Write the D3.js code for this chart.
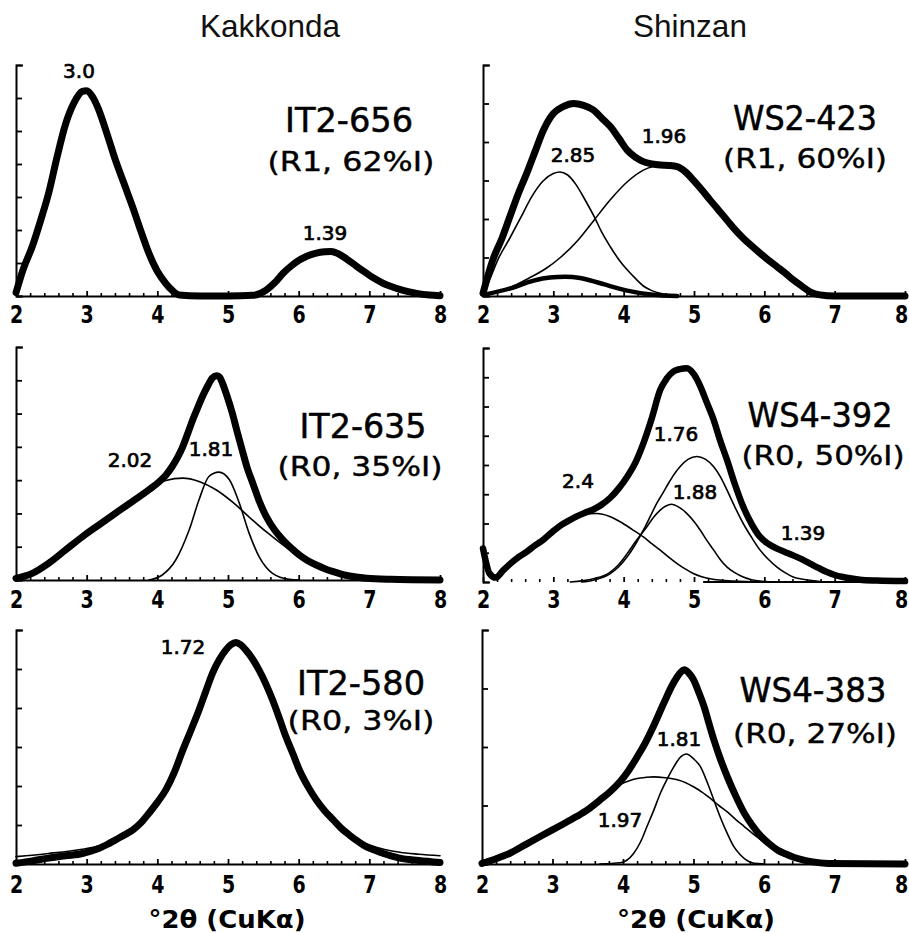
<!DOCTYPE html>
<html><head><meta charset="utf-8">
<script src="https://cdn.jsdelivr.net/npm/d3@7"></script>
<style>body{margin:0;background:#fff}</style>
</head><body>
<svg id="chart" width="909" height="933"></svg>
<script>
// ---------------- DATA ----------------
const columnTitles = ["Kakkonda", "Shinzan"];
const sampleNames = ["IT2-656", "WS2-423", "IT2-635", "WS4-392", "IT2-580", "WS4-383"];
const sampleInfo = ["(R1, 62%I)", "(R1, 60%I)", "(R0, 35%I)", "(R0, 50%I)", "(R0, 3%I)", "(R0, 27%I)"];
const xTicks = [2, 3, 4, 5, 6, 7, 8];
const xAxisTitle = "°2θ  (CuKα)";
const yTickCounts = [7, 6, 7, 8, 6, 4];
const peakLabels = [["3.0", "1.39"], ["2.85", "1.96"], ["2.02", "1.81"], ["2.4", "1.76", "1.88", "1.39"], ["1.72"], ["1.81", "1.97"]];

// IT2-656
const it2656Total = [[2.0,0.1],[2.1,0.8],[2.23,1.5],[2.35,2.3],[2.46,3.1],[2.58,4.2],[2.70,5.2],[2.82,5.85],[2.94,6.2],[3.0,6.22],[3.08,6.05],[3.17,5.65],[3.29,4.9],[3.41,4.1],[3.53,3.4],[3.65,2.7],[3.77,1.95],[3.88,1.3],[4.0,0.75],[4.12,0.38],[4.22,0.15],[4.31,0.03],[4.6,0.0],[5.0,0.0],[5.35,0.02],[5.54,0.18],[5.66,0.4],[5.78,0.69],[5.9,0.92],[6.01,1.09],[6.13,1.22],[6.25,1.3],[6.37,1.34],[6.46,1.35],[6.56,1.28],[6.68,1.12],[6.82,0.9],[6.96,0.69],[7.08,0.52],[7.20,0.38],[7.32,0.28],[7.43,0.20],[7.55,0.13],[7.67,0.08],[7.85,0.03],[8.0,0.01]];

// WS2-423
const ws2423Total = [[2.0,0.07],[2.14,0.94],[2.27,1.5],[2.38,2.05],[2.5,2.65],[2.64,3.27],[2.74,3.75],[2.86,4.31],[3.0,4.74],[3.14,4.92],[3.29,5.0],[3.43,4.95],[3.57,4.83],[3.69,4.62],[3.81,4.40],[3.93,4.10],[4.05,3.79],[4.17,3.6],[4.28,3.49],[4.40,3.43],[4.52,3.40],[4.64,3.39],[4.76,3.36],[4.88,3.22],[4.99,3.01],[5.11,2.76],[5.23,2.49],[5.35,2.23],[5.47,1.97],[5.58,1.73],[5.70,1.50],[5.82,1.30],[5.94,1.11],[6.06,0.93],[6.18,0.76],[6.30,0.59],[6.41,0.42],[6.53,0.26],[6.65,0.11],[6.79,0.03],[7.0,0.0],[8.0,0.0]];
const ws2423Comp285 = [[2.0,0.05],[2.1,0.45],[2.21,0.94],[2.38,1.5],[2.54,2.05],[2.7,2.6],[2.85,2.98],[3.0,3.18],[3.09,3.22],[3.2,3.15],[3.32,2.9],[3.45,2.5],[3.59,2.03],[3.69,1.65],[3.81,1.28],[3.93,0.95],[4.05,0.68],[4.17,0.45],[4.28,0.26],[4.40,0.14],[4.52,0.07],[4.76,0.0]];
const ws2423Comp196 = [[2.0,0.0],[2.39,0.22],[2.64,0.45],[2.9,0.72],[3.10,1.0],[3.35,1.45],[3.57,1.95],[3.81,2.5],[4.06,2.98],[4.28,3.27],[4.52,3.39],[4.76,3.32],[4.99,3.01],[5.23,2.49],[5.47,1.97],[5.70,1.50],[5.94,1.11],[6.18,0.76],[6.41,0.42],[6.65,0.11],[6.79,0.03],[7.0,0.0]];
const ws2423CompLow = [[2.0,0.03],[2.39,0.20],[2.72,0.40],[2.95,0.48],[3.17,0.50],[3.38,0.47],[3.67,0.33],[4.05,0.14],[4.42,0.03],[4.76,0.0]];

// IT2-635
const it2635Total = [[2.0,0.05],[2.23,0.20],[2.46,0.50],[2.70,0.90],[2.94,1.30],[3.17,1.65],[3.41,2.01],[3.65,2.36],[3.88,2.71],[4.03,2.96],[4.12,3.15],[4.21,3.41],[4.29,3.7],[4.36,4.01],[4.43,4.4],[4.50,4.81],[4.57,5.17],[4.64,5.52],[4.71,5.82],[4.78,6.07],[4.84,6.14],[4.88,6.1],[4.92,5.92],[4.99,5.5],[5.06,5.02],[5.13,4.45],[5.20,3.91],[5.27,3.38],[5.35,2.91],[5.44,2.38],[5.54,1.91],[5.66,1.5],[5.78,1.20],[5.9,0.95],[6.01,0.75],[6.13,0.58],[6.25,0.45],[6.37,0.34],[6.49,0.25],[6.6,0.18],[6.72,0.12],[6.84,0.08],[6.96,0.05],[7.3,0.02],[8.0,0.0]];
const it2635Comp202 = [[2.0,0.02],[2.46,0.48],[3.17,1.63],[3.88,2.68],[4.12,2.99],[4.36,3.06],[4.59,2.96],[4.83,2.71],[5.07,2.33],[5.30,1.89],[5.54,1.45],[5.78,1.05],[6.01,0.70],[6.25,0.44],[6.49,0.25],[6.96,0.08],[8.0,0.0]];
const it2635Comp181 = [[3.88,0.0],[4.07,0.15],[4.26,0.60],[4.45,1.50],[4.59,2.41],[4.73,3.11],[4.87,3.24],[5.02,3.01],[5.16,2.31],[5.30,1.40],[5.44,0.70],[5.63,0.20],[5.87,0.02],[6.01,0.0]];

// WS4-392
const ws4392Total = [[2.0,1.15],[2.04,0.7],[2.09,0.3],[2.18,0.15],[2.28,0.38],[2.39,0.63],[2.51,0.86],[2.63,1.05],[2.74,1.25],[2.86,1.45],[2.98,1.7],[3.10,1.93],[3.22,2.1],[3.34,2.25],[3.45,2.37],[3.57,2.48],[3.69,2.65],[3.81,2.88],[3.93,3.2],[4.05,3.60],[4.17,4.1],[4.28,4.74],[4.40,5.6],[4.52,6.57],[4.61,6.95],[4.71,7.2],[4.80,7.28],[4.90,7.31],[5.0,7.1],[5.09,6.69],[5.18,6.15],[5.28,5.54],[5.37,4.85],[5.47,4.17],[5.58,3.35],[5.70,2.57],[5.82,1.98],[5.94,1.54],[6.06,1.3],[6.18,1.14],[6.30,1.02],[6.41,0.91],[6.53,0.78],[6.65,0.63],[6.77,0.48],[6.89,0.34],[7.0,0.24],[7.12,0.17],[7.24,0.12],[7.36,0.08],[7.6,0.05],[8.0,0.03]];
const ws4392Comp24 = [[2.39,0.63],[2.63,1.05],[2.86,1.45],[3.05,1.82],[3.24,2.12],[3.43,2.3],[3.62,2.34],[3.8,2.24],[3.95,2.06],[4.12,1.8],[4.28,1.54],[4.4,1.31],[4.52,1.09],[4.64,0.85],[4.76,0.63],[4.88,0.44],[4.99,0.29],[5.11,0.18],[5.23,0.11],[5.56,0.03],[6.0,0.0]];
const ws4392Comp188 = [[3.24,0.0],[3.57,0.11],[3.81,0.34],[3.93,0.6],[4.05,0.97],[4.19,1.45],[4.33,1.89],[4.42,2.2],[4.52,2.46],[4.60,2.6],[4.68,2.66],[4.79,2.55],[4.90,2.34],[5.0,2.07],[5.09,1.77],[5.18,1.43],[5.28,1.09],[5.37,0.78],[5.47,0.51],[5.58,0.32],[5.70,0.17],[5.82,0.08],[5.94,0.03],[6.1,0.0]];
const ws4392Comp176 = [[3.4,0.0],[3.57,0.06],[3.81,0.29],[3.93,0.52],[4.05,0.86],[4.17,1.3],[4.28,1.77],[4.38,2.25],[4.47,2.69],[4.54,2.97],[4.61,3.26],[4.70,3.62],[4.80,3.94],[4.92,4.2],[5.04,4.29],[5.16,4.2],[5.28,3.94],[5.38,3.58],[5.47,3.14],[5.58,2.57],[5.70,2.0],[5.82,1.52],[5.94,1.09],[6.06,0.77],[6.18,0.51],[6.30,0.31],[6.41,0.17],[6.53,0.1],[6.65,0.06],[6.89,0.0],[7.2,0.0]];

// IT2-580
const it2580Total = [[2.0,0.02],[2.23,0.08],[2.46,0.15],[2.70,0.21],[2.94,0.27],[3.06,0.33],[3.17,0.40],[3.29,0.5],[3.41,0.62],[3.53,0.74],[3.65,0.87],[3.77,1.06],[3.88,1.30],[4.0,1.58],[4.12,1.90],[4.24,2.35],[4.36,2.92],[4.48,3.45],[4.59,3.95],[4.69,4.45],[4.78,4.89],[4.88,5.25],[4.97,5.49],[5.04,5.62],[5.11,5.68],[5.18,5.62],[5.25,5.49],[5.35,5.25],[5.44,4.97],[5.54,4.6],[5.63,4.21],[5.73,3.72],[5.82,3.26],[5.92,2.82],[6.01,2.41],[6.13,1.99],[6.25,1.64],[6.37,1.36],[6.49,1.13],[6.6,0.92],[6.72,0.74],[6.84,0.58],[6.96,0.44],[7.08,0.35],[7.20,0.27],[7.32,0.2],[7.43,0.15],[7.7,0.09],[8.0,0.04]];
const it2580Fit = [[2.0,0.19],[2.46,0.27],[2.94,0.38],[3.17,0.46],[3.41,0.64],[3.65,0.88],[3.88,1.30],[4.0,1.58],[4.12,1.90],[4.24,2.35],[4.36,2.92],[4.48,3.45],[4.59,3.95],[4.69,4.45],[4.78,4.89],[4.88,5.25],[4.97,5.49],[5.04,5.62],[5.11,5.68],[5.18,5.62],[5.25,5.49],[5.35,5.25],[5.44,4.97],[5.54,4.6],[5.63,4.21],[5.73,3.72],[5.82,3.26],[5.92,2.82],[6.01,2.41],[6.13,1.99],[6.25,1.64],[6.37,1.36],[6.49,1.13],[6.6,0.94],[6.72,0.78],[6.96,0.52],[7.20,0.38],[7.43,0.30],[7.7,0.25],[8.0,0.21]];

// WS4-383
const ws4383Total = [[2.0,0.01],[2.2,0.09],[2.39,0.18],[2.63,0.34],[2.87,0.50],[3.1,0.65],[3.34,0.81],[3.5,0.93],[3.67,1.09],[3.82,1.24],[3.96,1.41],[4.08,1.6],[4.20,1.83],[4.32,2.08],[4.43,2.35],[4.53,2.62],[4.62,2.86],[4.70,3.06],[4.77,3.20],[4.82,3.28],[4.87,3.32],[4.93,3.27],[5.0,3.15],[5.07,2.95],[5.15,2.69],[5.22,2.4],[5.29,2.12],[5.38,1.8],[5.48,1.49],[5.6,1.16],[5.72,0.87],[5.84,0.65],[5.96,0.47],[6.08,0.34],[6.19,0.24],[6.31,0.17],[6.43,0.11],[6.55,0.07],[6.67,0.04],[6.91,0.01],[8.0,0.0]];
const ws4383Comp197 = [[2.0,0.0],[2.4,0.2],[2.87,0.48],[3.2,0.73],[3.58,1.03],[3.78,1.2],[3.96,1.36],[4.08,1.42],[4.20,1.46],[4.32,1.48],[4.43,1.49],[4.6,1.475],[4.77,1.44],[4.89,1.39],[5.0,1.32],[5.12,1.23],[5.24,1.12],[5.36,1.0],[5.48,0.89],[5.60,0.76],[5.72,0.64],[5.84,0.52],[5.96,0.41],[6.08,0.32],[6.19,0.24],[6.31,0.17],[6.43,0.11],[6.67,0.05],[6.91,0.02],[7.3,0.0],[8.0,0.0]];
const ws4383Comp181 = [[3.67,0.0],[3.96,0.02],[4.15,0.18],[4.25,0.38],[4.34,0.64],[4.44,0.93],[4.53,1.21],[4.63,1.46],[4.72,1.66],[4.81,1.82],[4.90,1.88],[5.0,1.8],[5.10,1.66],[5.2,1.38],[5.29,1.09],[5.38,0.8],[5.48,0.52],[5.57,0.3],[5.67,0.15],[5.76,0.06],[5.86,0.01],[6.0,0.0]];

// ---------------- LAYOUT ----------------
const THICK = 7, THIN = 1.6;
const layout = [
  { xr:[16,440], yr:[296,65], tickY:323,
    name:[349,132,128], info:[351,171,167], peaks:[[79,78],[325,240]],
    series:[{d:it2656Total,w:THICK}] },
  { xr:[483,905], yr:[296,65], tickY:323,
    name:[805,130,144], info:[805,168,164], peaks:[[573,162],[664,143]],
    series:[{d:ws2423Comp285,w:THIN},{d:ws2423Comp196,w:THIN},{d:ws2423CompLow,w:4.5},{d:ws2423Total,w:THICK}] },
  { xr:[16,440], yr:[580,347], tickY:608,
    name:[363,438,127], info:[360,476,165], peaks:[[130,467],[211,456]],
    series:[{d:it2635Comp202,w:THIN},{d:it2635Comp181,w:THIN},{d:it2635Total,w:THICK}] },
  { xr:[483,905], yr:[582,348], tickY:608, dottedAxisUntil:5.13,
    name:[820,427,145], info:[823,465,163], peaks:[[578,488],[676,441],[695,499],[803,540]],
    series:[{d:ws4392Comp24,w:THIN},{d:ws4392Comp188,w:THIN},{d:ws4392Comp176,w:THIN},{d:ws4392Total,w:6.5}] },
  { xr:[16,440], yr:[864,630], tickY:893,
    name:[361,695,128], info:[361,730,147], peaks:[[183,654]],
    series:[{d:it2580Fit,w:THIN},{d:it2580Total,w:THICK}] },
  { xr:[482,905], yr:[864,630], tickY:893,
    name:[813,702,147], info:[815,743,164], peaks:[[679,746],[620,827]],
    series:[{d:ws4383Comp197,w:THIN},{d:ws4383Comp181,w:THIN},{d:ws4383Total,w:THICK}] }
];
const titlePos = [[270,37],[690,37]];
const axisTitlePos = [[227,928,157],[696,928,158]];

// ---------------- DRAW ----------------
const svg = d3.select("#chart");
const labelFont = "'DejaVu Sans', Verdana, sans-serif";

columnTitles.forEach((t, i) => {
  svg.append("text").attr("x", titlePos[i][0]).attr("y", titlePos[i][1])
    .attr("text-anchor", "middle").attr("font-family", "'Liberation Sans', Arial, sans-serif")
    .attr("font-size", 31.5).attr("fill", "#111").text(t);
});

layout.forEach((L, i) => {
  const x = d3.scaleLinear().domain([2, 8]).range(L.xr);
  const y = d3.scaleLinear().domain([0, yTickCounts[i]]).range(L.yr);
  const g = svg.append("g");
  const yb = L.yr[0];

  // minor x ticks
  const minor = d3.range(20, 81, 2).map(v => v / 10).filter(v => !xTicks.includes(v));
  const gMinor = g.append("g").attr("transform", `translate(0,${yb})`)
    .call(d3.axisBottom(x).tickValues(minor).tickSize(-3).tickSizeOuter(0).tickFormat(""));
  gMinor.select(".domain").remove();
  gMinor.selectAll("line").attr("stroke", "#000").attr("stroke-width", 1.6);

  // major x axis
  const gx = g.append("g").attr("transform", `translate(0,${yb})`)
    .call(d3.axisBottom(x).tickValues(xTicks).tickSize(-5).tickSizeOuter(0).tickFormat(d3.format("d")));
  gx.select(".domain").attr("stroke", "#000").attr("stroke-width", 2);
  gx.selectAll("line").attr("stroke", "#000").attr("stroke-width", 1.8);
  gx.selectAll("text")
    .attr("y", null).attr("dy", null)
    .attr("transform", d => `translate(${(d === 8 && L.xr[1] > 900) ? -4 : 0},${L.tickY - yb}) scale(1,1.35)`)
    .attr("font-family", labelFont).attr("font-weight", "bold")
    .attr("font-size", 19).attr("fill", "#000");
  if (L.dottedAxisUntil) {
    gx.select(".domain").remove();
    g.append("line").attr("x1", x(L.dottedAxisUntil)).attr("x2", x(8))
      .attr("y1", yb).attr("y2", yb).attr("stroke", "#000").attr("stroke-width", 2);
  }

  // y axis
  const gy = g.append("g").attr("transform", `translate(${L.xr[0]},0)`)
    .call(d3.axisLeft(y).tickValues(d3.range(0, yTickCounts[i] + 1))
      .tickSize(-6).tickSizeOuter(-7).tickFormat(""));
  gy.select(".domain").attr("stroke", "#000").attr("stroke-width", 2).attr("fill", "none");
  gy.selectAll("line").attr("stroke", "#000").attr("stroke-width", 1.8);

  // curves
  const line = d3.line().x(d => x(d[0])).y(d => y(d[1])).curve(d3.curveMonotoneX);
  L.series.forEach(s => {
    g.append("path").datum(s.d).attr("d", line)
      .attr("fill", "none").attr("stroke", "#000").attr("stroke-width", s.w)
      .attr("stroke-linejoin", "round").attr("stroke-linecap", "round");
  });

  // labels
  g.append("text").attr("x", L.name[0]).attr("y", L.name[1])
    .attr("text-anchor", "middle").attr("font-family", labelFont).attr("font-size", 33)
    .attr("textLength", L.name[2]).attr("lengthAdjust", "spacingAndGlyphs")
    .attr("stroke", "#000").attr("stroke-width", 0.5)
    .attr("fill", "#000").text(sampleNames[i]);
  g.append("text").attr("x", L.info[0]).attr("y", L.info[1])
    .attr("text-anchor", "middle").attr("font-family", labelFont).attr("font-size", 26)
    .attr("textLength", L.info[2]).attr("lengthAdjust", "spacingAndGlyphs")
    .attr("stroke", "#000").attr("stroke-width", 0.4)
    .attr("fill", "#000").text(sampleInfo[i]);
  peakLabels[i].forEach((t, k) => {
    g.append("text").attr("x", L.peaks[k][0]).attr("y", L.peaks[k][1])
      .attr("text-anchor", "middle").attr("font-family", labelFont).attr("font-size", 20)
      .attr("stroke", "#000").attr("stroke-width", 0.7)
      .attr("fill", "#000").text(t);
  });
});

axisTitlePos.forEach(p => {
  svg.append("text").attr("x", p[0]).attr("y", p[1]).attr("text-anchor", "middle")
    .attr("font-family", labelFont).attr("font-weight", "bold").attr("font-size", 24)
    .attr("textLength", p[2]).attr("lengthAdjust", "spacingAndGlyphs")
    .attr("fill", "#000").text(xAxisTitle);
});
</script>
</body></html>
